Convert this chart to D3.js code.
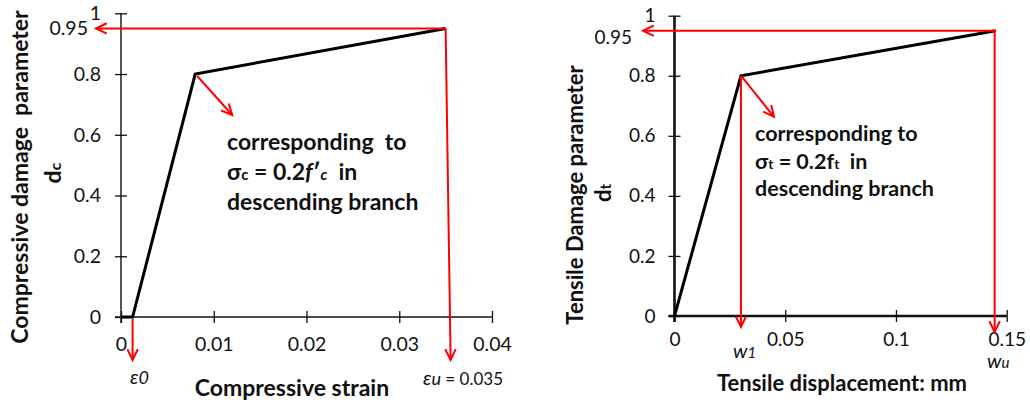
<!DOCTYPE html>
<html>
<head>
<meta charset="utf-8">
<script src="https://cdn.jsdelivr.net/npm/d3@7"></script>
<style>
  html, body { margin: 0; padding: 0; background: #fff; }
  svg { display: block; }
  text { font-family: Lato, "Open Sans", sans-serif; fill: #111; }
</style>
</head>
<body>
<svg id="chart" width="1030" height="405"></svg>
<script>
// Compressive damage model: strain vs damage parameter dc
const compStrain = [0, 0.00125, 0.008, 0.035];
const compDamage = [0, 0, 0.8, 0.95];
const compXTicks = [0, 0.01, 0.02, 0.03, 0.04];
const compXTickLabels = ["0", "0.01", "0.02", "0.03", "0.04"];

// Tensile damage model: crack displacement vs damage parameter dt
const tensDisp = [0, 0.03, 0.145];
const tensDamage = [0, 0.8, 0.95];
const tensXTicks = [0, 0.05, 0.1, 0.15];
const tensXTickLabels = ["0", "0.05", "0.1", "0.15"];

const yTicks = [0, 0.2, 0.4, 0.6, 0.8, 1];
const yTickLabels = ["0", "0.2", "0.4", "0.6", "0.8", "1"];
const markedDamage = 0.95;
const markedDamageLabel = "0.95";

const svg = d3.select("#chart");
const RED = "#ff0000";
const NBSP = "\u00a0";

function arrow(g, x1, y1, x2, y2) {
  g.append("line")
    .attr("x1", x1).attr("y1", y1).attr("x2", x2).attr("y2", y2)
    .attr("stroke", RED).attr("stroke-width", 2);
  const ang = Math.atan2(y2 - y1, x2 - x1);
  const len = 12, spread = 0.45;
  const pts = [
    [x2 - len * Math.cos(ang - spread), y2 - len * Math.sin(ang - spread)],
    [x2, y2],
    [x2 - len * Math.cos(ang + spread), y2 - len * Math.sin(ang + spread)]
  ];
  g.append("path")
    .attr("d", d3.line()(pts))
    .attr("fill", "none").attr("stroke", RED).attr("stroke-width", 2)
    .attr("stroke-linejoin", "miter");
}

function panel(opt) {
  const g = svg.append("g");
  const x = d3.scaleLinear().domain(opt.xDomain).range(opt.xRange);
  const y = d3.scaleLinear().domain([0, 1]).range(opt.yRange);

  // y axis with cross tick marks
  const yAxis = g.append("g").attr("transform", `translate(${x(0)},0)`)
    .call(d3.axisLeft(y).tickValues(yTicks)
      .tickFormat((d, i) => yTickLabels[i])
      .tickSize(6).tickPadding(opt.yPad));
  yAxis.select(".domain").remove();
  yAxis.selectAll(".tick line").attr("x1", 6).attr("x2", -6)
    .attr("stroke", "#111").attr("stroke-width", 1.3);
  yAxis.selectAll(".tick text").attr("font-size", opt.tickFont)
    .attr("font-family", "Lato, sans-serif").attr("fill", "#1a1a1a");
  g.append("line")
    .attr("x1", x(0)).attr("x2", x(0))
    .attr("y1", y(1)).attr("y2", y(0) + 6)
    .attr("stroke", "#111").attr("stroke-width", opt.axisWidth);

  // x axis with cross tick marks
  const xAxis = g.append("g").attr("transform", `translate(0,${y(0)})`)
    .call(d3.axisBottom(x).tickValues(opt.xTicks)
      .tickFormat((d, i) => opt.xTickLabels[i])
      .tickSize(6).tickPadding(opt.xPad));
  xAxis.select(".domain").remove();
  xAxis.selectAll(".tick line").attr("y1", -6).attr("y2", 6)
    .attr("stroke", "#111").attr("stroke-width", 1.3);
  xAxis.selectAll(".tick text").attr("font-size", opt.tickFont)
    .attr("font-family", "Lato, sans-serif").attr("fill", "#1a1a1a");
  g.append("line")
    .attr("x1", x(0) - 6).attr("x2", x(opt.xDomain[1]))
    .attr("y1", y(0)).attr("y2", y(0))
    .attr("stroke", "#111").attr("stroke-width", opt.axisWidth);

  // damage curve
  const pts = opt.xs.map((v, i) => [x(v), y(opt.ys[i])]);
  g.append("path")
    .attr("d", d3.line()(pts))
    .attr("fill", "none").attr("stroke", "#000").attr("stroke-width", 3)
    .attr("stroke-linejoin", "miter");

  return { g, x, y };
}

/* ---------- Compressive panel ---------- */
const c = panel({
  xDomain: [0, 0.04], xRange: [121, 492], yRange: [317, 13.3],
  xTicks: compXTicks, xTickLabels: compXTickLabels,
  xs: compStrain, ys: compDamage,
  tickFont: 19.5, yPad: 14, xPad: 14, axisWidth: 1.4
});
{
  const { g, x, y } = c;
  const iEnd = compStrain.length - 1, iPeak = 2, iStart = 1;
  const xe = x(compStrain[iEnd]), ye = y(markedDamage);
  arrow(g, xe, ye, 96, ye);
  arrow(g, xe, ye, xe + 5, 360);
  arrow(g, x(compStrain[iStart]), y(0) + 2, x(compStrain[iStart]), 360);
  arrow(g, x(compStrain[iPeak]) + 2, y(compDamage[iPeak]) + 2,
        x(compStrain[iPeak]) + 37, y(compDamage[iPeak]) + 41);

  g.append("text").attr("x", 88).attr("y", ye).attr("dy", "0.35em")
    .attr("text-anchor", "end").attr("font-size", 19.5).attr("fill", "#1a1a1a")
    .text(markedDamageLabel);

  // annotation block
  const tb = g.append("text").attr("font-weight", 700).attr("font-size", 23);
  tb.append("tspan").attr("x", 227).attr("y", 150).text("corresponding" + NBSP + " to");
  const l2 = tb.append("tspan").attr("x", 227).attr("y", 180);
  l2.append("tspan").text("σ");
  l2.append("tspan").attr("font-size", 15).text("c");
  l2.append("tspan").text(" = 0.2");
  l2.append("tspan").attr("font-style", "italic").text("f");
  l2.append("tspan").text("′");
  l2.append("tspan").attr("font-style", "italic").attr("font-size", 15).text("c");
  l2.append("tspan").text(NBSP + NBSP + "in");
  tb.append("tspan").attr("x", 227).attr("y", 210).text("descending branch");

  // strain markers
  g.append("text").attr("x", 130).attr("y", 384).attr("font-style", "italic")
    .attr("font-size", 20).attr("fill", "#1a1a1a")
    .call(t => { t.append("tspan").text("ε"); t.append("tspan").attr("font-size", 18).text("0"); });
  const eu = g.append("text").attr("x", 423).attr("y", 385).attr("fill", "#1a1a1a");
  eu.append("tspan").attr("font-style", "italic").attr("font-size", 20).text("ε");
  eu.append("tspan").attr("font-style", "italic").attr("font-size", 18).text("u");
  eu.append("tspan").attr("font-size", 17).text(" = 0.035");

  // axis titles
  g.append("text").attr("x", 292).attr("y", 396).attr("text-anchor", "middle")
    .attr("font-weight", 700).attr("font-size", 23).text("Compressive strain");
  g.append("text").attr("transform", "translate(28,177) rotate(-90)")
    .attr("text-anchor", "middle").attr("font-weight", 700).attr("font-size", 23)
    .text("Compressive damage" + NBSP + " parameter");
  const dc = g.append("text").attr("transform", "translate(61,173) rotate(-90)")
    .attr("text-anchor", "middle").attr("font-weight", 700).attr("font-size", 23);
  dc.append("tspan").text("d");
  dc.append("tspan").attr("font-size", 16).text("c");
}

/* ---------- Tensile panel ---------- */
const t = panel({
  xDomain: [0, 0.15], xRange: [674.5, 1006.7], yRange: [316, 15.7],
  xTicks: tensXTicks, xTickLabels: tensXTickLabels,
  xs: tensDisp, ys: tensDamage,
  tickFont: 19, yPad: 13, xPad: 11, axisWidth: 2.6
});
{
  const { g, x, y } = t;
  const iEnd = tensDisp.length - 1, iPeak = 1;
  const xe = x(tensDisp[iEnd]), ye = y(markedDamage);
  const xp = x(tensDisp[iPeak]), yp = y(tensDamage[iPeak]);
  arrow(g, xe, ye, 643, ye);
  arrow(g, xe - 1, ye, xe - 1, 332);
  arrow(g, xp, yp, xp, 327);
  arrow(g, xp + 1, yp + 1, xp + 33, yp + 41);

  g.append("text").attr("x", 632).attr("y", 37).attr("dy", "0.35em")
    .attr("text-anchor", "end").attr("font-size", 19).attr("fill", "#1a1a1a")
    .text(markedDamageLabel);

  const tb = g.append("text").attr("font-weight", 700).attr("font-size", 21.5);
  tb.append("tspan").attr("x", 755).attr("y", 141).text("corresponding to");
  const l2 = tb.append("tspan").attr("x", 755).attr("y", 169);
  l2.append("tspan").text("σ");
  l2.append("tspan").attr("font-size", 14).text("t");
  l2.append("tspan").text(" = 0.2f");
  l2.append("tspan").attr("font-size", 14).text("t");
  l2.append("tspan").text(NBSP + NBSP + "in");
  tb.append("tspan").attr("x", 755).attr("y", 196).text("descending branch");

  const w1 = g.append("text").attr("x", 733).attr("y", 358)
    .attr("font-style", "italic").attr("fill", "#1a1a1a");
  w1.append("tspan").attr("font-size", 20).text("w");
  w1.append("tspan").attr("font-size", 15).text("1");
  const wu = g.append("text").attr("x", 987).attr("y", 368)
    .attr("font-style", "italic").attr("fill", "#1a1a1a");
  wu.append("tspan").attr("font-size", 20).text("w");
  wu.append("tspan").attr("font-size", 15).text("u");

  g.append("text").attr("x", 842).attr("y", 391).attr("text-anchor", "middle")
    .attr("font-weight", 700).attr("font-size", 22).text("Tensile displacement: mm");
  g.append("text").attr("transform", "translate(583,195) rotate(-90)")
    .attr("text-anchor", "middle").attr("font-weight", 700).attr("font-size", 22)
    .text("Tensile Damage parameter");
  const dt = g.append("text").attr("transform", "translate(611,193) rotate(-90)")
    .attr("text-anchor", "middle").attr("font-weight", 700).attr("font-size", 22);
  dt.append("tspan").text("d");
  dt.append("tspan").attr("font-size", 15).text("t");
}
</script>
</body>
</html>
